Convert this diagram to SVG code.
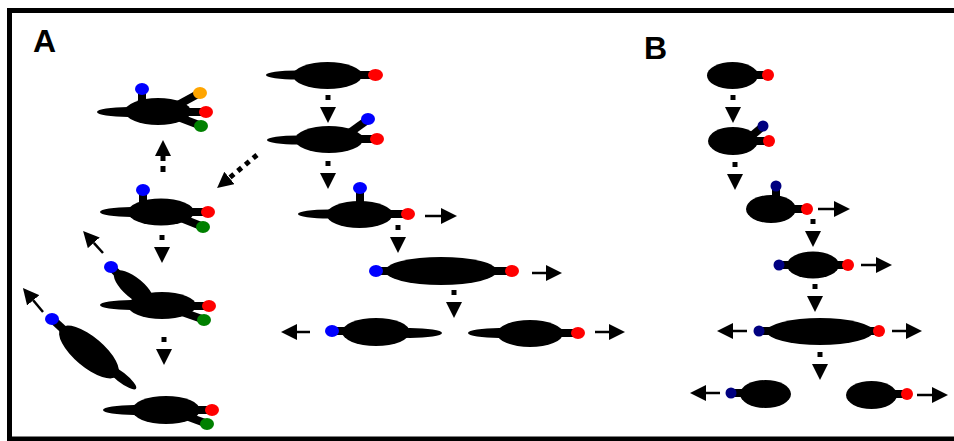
<svg xmlns="http://www.w3.org/2000/svg" width="954" height="441" viewBox="0 0 954 441">
  <style>
    .bd { fill: #000; }
    .st { stroke: #000; stroke-width: 8; }
    .red { fill: #ff0000; }
    .blu { fill: #0000ff; }
    .grn { fill: #008000; }
    .org { fill: #ffa500; }
    .nav { fill: #000080; }
    .lbl { font-family: "Liberation Sans", Arial, sans-serif; font-weight: bold; font-size: 32px; fill: #000; }
    .solid { stroke: #000; stroke-width: 2.5; fill: none; marker-end: url(#head); }
    .dots { stroke: #000; stroke-width: 5; fill: none; stroke-dasharray: 5 7; marker-end: url(#head); }
  </style>
  <defs>
    <marker id="head" markerUnits="userSpaceOnUse" markerWidth="16" markerHeight="16" viewBox="0 0 16 16" refX="0" refY="8" orient="auto">
      <path d="M0,0 L16,8 L0,16 z" fill="#000"/>
    </marker>
  </defs>

  <rect x="0" y="0" width="954" height="441" fill="#fff"/>
  <rect x="9.5" y="10.5" width="960" height="428.5" fill="none" stroke="#000" stroke-width="5"/>

  <text class="lbl" x="33" y="52">A</text>
  <text class="lbl" x="644" y="59">B</text>

  <!-- Panel A, left column -->
  <g id="a1">
    <ellipse class="bd" cx="128" cy="112" rx="31" ry="5"/>
    <ellipse class="bd" cx="158" cy="111.5" rx="33" ry="13.5"/>
    <line class="st" x1="142" y1="101" x2="142" y2="90"/>
    <line class="st" x1="176" y1="106" x2="198" y2="94"/>
    <line class="st" x1="185" y1="112" x2="204" y2="112"/>
    <line class="st" x1="178" y1="117" x2="199" y2="125"/>
    <ellipse class="blu" cx="142" cy="89" rx="7" ry="6"/>
    <ellipse class="org" cx="200" cy="93" rx="7" ry="6"/>
    <ellipse class="red" cx="206" cy="112" rx="7" ry="6"/>
    <ellipse class="grn" cx="201" cy="126" rx="7" ry="6"/>
  </g>
  <g id="a2">
    <ellipse class="bd" cx="131" cy="212" rx="31" ry="5"/>
    <ellipse class="bd" cx="161" cy="212" rx="33" ry="13.5"/>
    <line class="st" x1="143" y1="202" x2="143" y2="191"/>
    <line class="st" x1="188" y1="212" x2="206" y2="212"/>
    <line class="st" x1="181" y1="218" x2="201" y2="226"/>
    <ellipse class="blu" cx="143" cy="190" rx="7" ry="6"/>
    <ellipse class="red" cx="208" cy="212" rx="7" ry="6"/>
    <ellipse class="grn" cx="203" cy="227" rx="7" ry="6"/>
  </g>
  <g id="a3">
    <line class="st" x1="111" y1="267" x2="122" y2="278"/>
    <ellipse class="bd" cx="134" cy="288" rx="25" ry="10" transform="rotate(40 134 288)"/>
    <ellipse class="bd" cx="131" cy="305" rx="31" ry="5"/>
    <ellipse class="bd" cx="162" cy="305.5" rx="34" ry="13.5"/>
    <line class="st" x1="189" y1="306" x2="207" y2="306"/>
    <line class="st" x1="182" y1="312" x2="202" y2="319"/>
    <ellipse class="blu" cx="111" cy="267" rx="7" ry="6"/>
    <ellipse class="red" cx="209" cy="306" rx="7" ry="6"/>
    <ellipse class="grn" cx="204" cy="320" rx="7" ry="6"/>
  </g>
  <g id="a-detached">
    <line class="st" x1="52" y1="319" x2="64" y2="330"/>
    <ellipse class="bd" cx="121" cy="377" rx="19" ry="5" transform="rotate(38 121 377)"/>
    <ellipse class="bd" cx="89" cy="352" rx="37" ry="15" transform="rotate(40 89 352)"/>
    <ellipse class="blu" cx="52" cy="319" rx="7" ry="6"/>
  </g>
  <g id="a4">
    <ellipse class="bd" cx="134" cy="410" rx="31" ry="5"/>
    <ellipse class="bd" cx="166" cy="410" rx="34" ry="14"/>
    <line class="st" x1="192" y1="410" x2="210" y2="410"/>
    <line class="st" x1="186" y1="416" x2="205" y2="423"/>
    <ellipse class="red" cx="212" cy="410" rx="7" ry="6"/>
    <ellipse class="grn" cx="207" cy="424" rx="7" ry="6"/>
  </g>

  <!-- Panel A, right branch -->
  <g id="b1">
    <ellipse class="bd" cx="297" cy="75" rx="31" ry="4.5"/>
    <ellipse class="bd" cx="327.5" cy="75.5" rx="34.5" ry="13.5"/>
    <line class="st" x1="355" y1="75" x2="372" y2="75"/>
    <ellipse class="red" cx="375.5" cy="75" rx="7.5" ry="6"/>
  </g>
  <g id="b2">
    <ellipse class="bd" cx="298" cy="140" rx="31" ry="4.5"/>
    <ellipse class="bd" cx="329" cy="139.5" rx="34" ry="13.5"/>
    <line class="st" x1="348" y1="134" x2="366" y2="121"/>
    <line class="st" x1="356" y1="139" x2="373" y2="139"/>
    <ellipse class="blu" cx="368" cy="119" rx="7" ry="6"/>
    <ellipse class="red" cx="377" cy="139" rx="7" ry="6"/>
  </g>
  <g id="b3">
    <ellipse class="bd" cx="329" cy="214" rx="31" ry="4.5"/>
    <ellipse class="bd" cx="359.5" cy="214.5" rx="33" ry="13.5"/>
    <line class="st" x1="360" y1="203" x2="360" y2="190"/>
    <line class="st" x1="386" y1="214" x2="404" y2="214"/>
    <ellipse class="blu" cx="360" cy="188" rx="7" ry="6"/>
    <ellipse class="red" cx="408" cy="214" rx="7" ry="6"/>
  </g>
  <g id="b4">
    <line class="st" x1="380" y1="271" x2="410" y2="271"/>
    <line class="st" x1="470" y1="271" x2="508" y2="271"/>
    <ellipse class="bd" cx="441" cy="271" rx="56" ry="14"/>
    <ellipse class="blu" cx="376" cy="271" rx="7" ry="6"/>
    <ellipse class="red" cx="512" cy="271" rx="7" ry="6"/>
  </g>
  <g id="b5-left">
    <ellipse class="bd" cx="410" cy="333" rx="32" ry="5"/>
    <line class="st" x1="336" y1="331" x2="352" y2="331"/>
    <ellipse class="bd" cx="376" cy="332" rx="34" ry="14"/>
    <ellipse class="blu" cx="332" cy="331" rx="7" ry="6"/>
  </g>
  <g id="b5-right">
    <ellipse class="bd" cx="499" cy="333" rx="31" ry="5"/>
    <ellipse class="bd" cx="530" cy="333.5" rx="33" ry="13.5"/>
    <line class="st" x1="556" y1="333" x2="574" y2="333"/>
    <ellipse class="red" cx="578" cy="333" rx="7" ry="6"/>
  </g>

  <!-- Panel B -->
  <g id="c1">
    <line class="st" x1="750" y1="75" x2="765" y2="75"/>
    <ellipse class="bd" cx="732.5" cy="75.5" rx="25.5" ry="13.5"/>
    <ellipse class="red" cx="768" cy="75" rx="6" ry="6"/>
  </g>
  <g id="c2">
    <line class="st" x1="748" y1="139" x2="761" y2="128"/>
    <line class="st" x1="751" y1="141" x2="766" y2="141"/>
    <ellipse class="bd" cx="733" cy="141" rx="25" ry="14"/>
    <ellipse class="nav" cx="763" cy="126" rx="5.5" ry="5.5"/>
    <ellipse class="red" cx="769" cy="141" rx="6" ry="6"/>
  </g>
  <g id="c3">
    <line class="st" x1="776" y1="198" x2="776" y2="187"/>
    <line class="st" x1="790" y1="209" x2="804" y2="209"/>
    <ellipse class="bd" cx="771" cy="209" rx="25" ry="14"/>
    <ellipse class="nav" cx="776" cy="186" rx="5.5" ry="5.5"/>
    <ellipse class="red" cx="807" cy="209" rx="6" ry="6"/>
  </g>
  <g id="c4">
    <line class="st" x1="781" y1="265" x2="845" y2="265"/>
    <ellipse class="bd" cx="813" cy="265" rx="26" ry="13.5"/>
    <ellipse class="nav" cx="779" cy="265" rx="5.5" ry="5.5"/>
    <ellipse class="red" cx="848" cy="265" rx="6" ry="6"/>
  </g>
  <g id="c5">
    <line class="st" x1="761" y1="331" x2="876" y2="331"/>
    <ellipse class="bd" cx="820" cy="331.5" rx="53" ry="13.5"/>
    <ellipse class="nav" cx="759" cy="331" rx="5.5" ry="5.5"/>
    <ellipse class="red" cx="879" cy="331" rx="6" ry="6"/>
  </g>
  <g id="c6-left">
    <line class="st" x1="733" y1="393" x2="750" y2="393"/>
    <ellipse class="bd" cx="765.5" cy="394" rx="25.5" ry="14"/>
    <ellipse class="nav" cx="731" cy="393" rx="5.5" ry="5.5"/>
  </g>
  <g id="c6-right">
    <line class="st" x1="888" y1="394" x2="904" y2="394"/>
    <ellipse class="bd" cx="871.5" cy="395" rx="25.5" ry="14"/>
    <ellipse class="red" cx="907" cy="394" rx="6" ry="6"/>
  </g>

  <!-- Connectors -->
  <g id="connectors">
    <!-- dotted transition arrows -->
    <path class="dots" d="M163,172 L163,156" style="stroke-dasharray:6 5"/>
    <path class="dots" d="M162,235 L162,247"/>
    <path class="dots" d="M164,337 L164,349"/>
    <path class="dots" d="M257,155 L229.4,177.9" style="stroke-dasharray:5 5"/>
    <path class="dots" d="M328,95 L328,107"/>
    <path class="dots" d="M328,161 L328,173"/>
    <path class="dots" d="M398,225 L398,237"/>
    <path class="dots" d="M454,290 L454,302"/>
    <path class="dots" d="M733,95 L733,107"/>
    <path class="dots" d="M735,162 L735,174"/>
    <path class="dots" d="M813,219 L813,231"/>
    <path class="dots" d="M815,284 L815,296"/>
    <path class="dots" d="M820,352 L820,364"/>
    <!-- movement arrows -->
    <path class="solid" d="M103,253 L93.8,242.8"/>
    <path class="solid" d="M43,312 L33.2,300.3"/>
    <path class="solid" d="M425,216 L441,216"/>
    <path class="solid" d="M532,273 L546,273"/>
    <path class="solid" d="M310,332 L297,332"/>
    <path class="solid" d="M595,332 L609,332"/>
    <path class="solid" d="M818,209 L834,209"/>
    <path class="solid" d="M861,265 L876,265"/>
    <path class="solid" d="M747,331 L733,331"/>
    <path class="solid" d="M892,331 L906,331"/>
    <path class="solid" d="M720,393 L706,393"/>
    <path class="solid" d="M917,395 L932,395"/>
  </g>
</svg>
